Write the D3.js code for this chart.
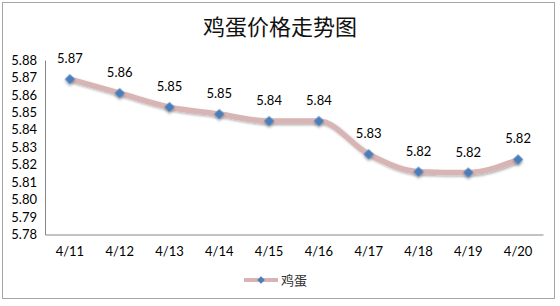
<!DOCTYPE html>
<html>
<head>
<meta charset="utf-8">
<script src="https://cdn.jsdelivr.net/npm/d3@7"></script>
<style>
  body { margin: 0; background: #fff; }
  text { font-family: Lato, "Noto Sans CJK SC", sans-serif; }
</style>
</head>
<body>
<script>
var dates = ['4/11', '4/12', '4/13', '4/14', '4/15', '4/16', '4/17', '4/18', '4/19', '4/20'];
var prices = [5.869, 5.861, 5.853, 5.849, 5.845, 5.845, 5.826, 5.816, 5.8155, 5.823];
var yTicks = [5.78, 5.79, 5.80, 5.81, 5.82, 5.83, 5.84, 5.85, 5.86, 5.87, 5.88];
var seriesName = '鸡蛋';

var width = 560, height = 306;
var plotLeft = 45, plotRight = 543, plotTop = 60, plotBottom = 234.5;

var svg = d3.select('body').append('svg')
    .attr('width', width)
    .attr('height', height);

var defs = svg.append('defs');
var f = defs.append('filter').attr('id', 'shadow')
    .attr('x', '-50%').attr('y', '-50%').attr('width', '200%').attr('height', '200%');
f.append('feDropShadow')
    .attr('dx', 1.5).attr('dy', 1.5).attr('stdDeviation', 1.2)
    .attr('flood-color', '#000').attr('flood-opacity', 0.3);

// frame
svg.append('rect')
    .attr('x', 2.5).attr('y', 2.5)
    .attr('width', 552).attr('height', 296)
    .attr('fill', '#fff')
    .attr('stroke', '#a6a6a6');

// title
svg.append('text')
    .attr('x', 280).attr('y', 35)
    .attr('text-anchor', 'middle')
    .attr('font-size', 22)
    .attr('fill', '#111')
    .style('font-family', '"Noto Sans CJK SC", sans-serif')
    .text('鸡蛋价格走势图');

var x = d3.scaleBand().domain(dates).range([plotLeft, plotRight]);
var y = d3.scaleLinear().domain([5.78, 5.88]).range([plotBottom, plotTop]);

var yAxis = svg.append('g')
    .attr('transform', 'translate(' + plotLeft + ',0)')
    .call(d3.axisLeft(y).tickValues(yTicks).tickFormat(d3.format('.2f')).tickSize(0).tickPadding(8));
yAxis.select('.domain').attr('stroke', '#868686');
yAxis.selectAll('text').attr('font-size', 13).attr('fill', '#000');

var xAxis = svg.append('g')
    .attr('transform', 'translate(0,' + plotBottom + ')')
    .call(d3.axisBottom(x).tickSize(0).tickPadding(12));
xAxis.select('.domain').attr('stroke', '#868686');
xAxis.selectAll('text').attr('font-size', 13).attr('fill', '#000');

var pts = dates.map(function(d, i) {
  return { x: x(d) + x.bandwidth() / 2, y: y(prices[i]), v: prices[i] };
});

var line = d3.line()
    .x(function(d) { return d.x; })
    .y(function(d) { return d.y; })
    .curve(d3.curveMonotoneX);

svg.append('path')
    .datum(pts)
    .attr('d', line)
    .attr('fill', 'none')
    .attr('stroke', '#d8b4b4')
    .attr('stroke-width', 5.5)
    .attr('stroke-linejoin', 'round')
    .attr('filter', 'url(#shadow)');

var diamond = d3.symbol().type(d3.symbolSquare).size(52);

svg.selectAll('path.marker')
    .data(pts)
    .enter().append('path')
    .attr('class', 'marker')
    .attr('d', diamond)
    .attr('transform', function(d) { return 'translate(' + d.x + ',' + d.y + ') rotate(45)'; })
    .attr('fill', '#4a7ebb')
    .attr('filter', 'url(#shadow)');

svg.selectAll('text.lbl')
    .data(pts)
    .enter().append('text')
    .attr('class', 'lbl')
    .attr('x', function(d) { return d.x; })
    .attr('y', function(d) { return d.y - 16; })
    .attr('text-anchor', 'middle')
    .attr('font-size', 13)
    .text(function(d) { return d3.format('.2f')(d.v); });

// legend
var lg = svg.append('g').attr('transform', 'translate(0,280)');
lg.append('line')
    .attr('x1', 244).attr('x2', 278).attr('y1', 0).attr('y2', 0)
    .attr('stroke', '#d8b4b4').attr('stroke-width', 4);
lg.append('path')
    .attr('d', d3.symbol().type(d3.symbolSquare).size(30))
    .attr('transform', 'translate(261,0) rotate(45)')
    .attr('fill', '#4a7ebb');
lg.append('text')
    .attr('x', 281).attr('y', 5)
    .attr('font-size', 13)
    .attr('fill', '#333')
    .style('font-family', '"Noto Sans CJK SC", sans-serif')
    .text(seriesName);
</script>
</body>
</html>
